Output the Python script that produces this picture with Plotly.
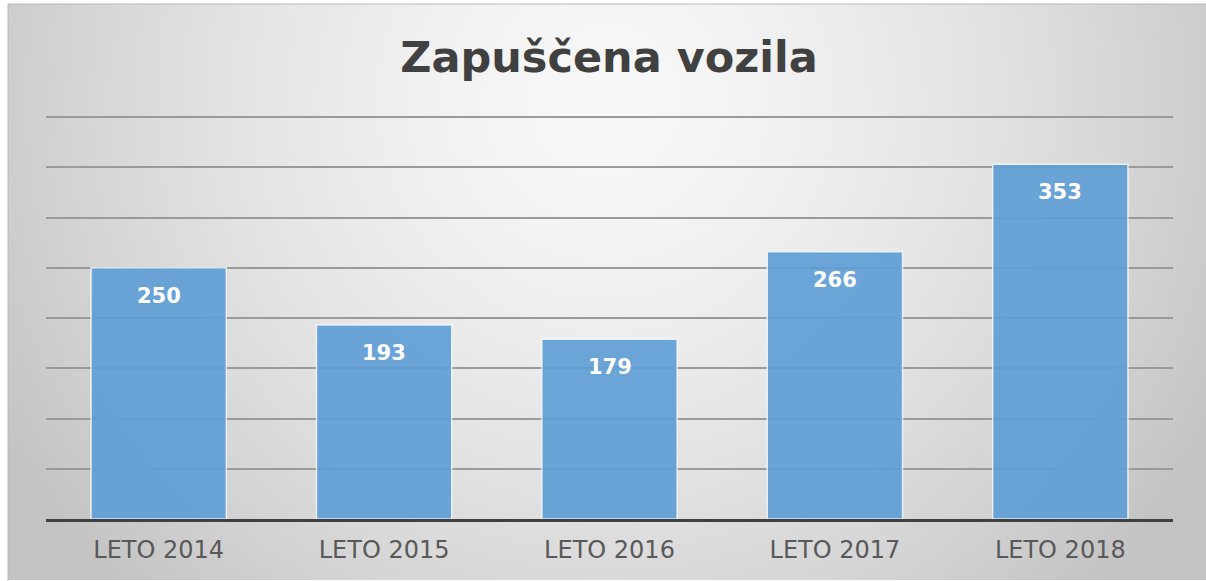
import base64, struct, zlib
import numpy as np
import plotly.graph_objects as go

categories = ["LETO 2014", "LETO 2015", "LETO 2016", "LETO 2017", "LETO 2018"]
values = [250, 193, 179, 266, 353]
title_text = "Zapuščena vozila"
grid_vals = [50, 100, 150, 200, 250, 300, 350, 400]

W, H = 1206, 581
L, R, T, B = 46, 33, 97, 62
PW, PH = W - L - R, H - T - B
Y_MAX = 420

# --- background gradient image (frame from x=8..1206, y=4..580)
fx0, fy0, fx1, fy1 = 8, 4, 1206, 580
iw, ih = fx1 - fx0, fy1 - fy0
xs = np.arange(iw)[None, :] + fx0
ys = np.arange(ih)[:, None] + fy0
d = np.sqrt(((xs - 605) / 600.0) ** 2 + ((ys - 100) / 600.0) ** 2)
v = np.clip(248 - 42 * d ** 1.5, 195, 250).astype(np.uint8)

def png_gray(arr):
    h, w = arr.shape
    raw = b"".join(b"\x00" + arr[i].tobytes() for i in range(h))
    def chunk(t, data):
        c = struct.pack(">I", len(data)) + t + data
        return c + struct.pack(">I", zlib.crc32(t + data) & 0xFFFFFFFF)
    return (b"\x89PNG\r\n\x1a\n" + chunk(b"IHDR", struct.pack(">IIBBBBB", w, h, 8, 0, 0, 0, 0))
            + chunk(b"IDAT", zlib.compress(raw, 9)) + chunk(b"IEND", b""))

uri = "data:image/png;base64," + base64.b64encode(png_gray(v)).decode()

def px2x(px):
    return (px - L) / PW

def py2y(py):
    return (H - B - py) / PH

fig = go.Figure()
fig.add_trace(go.Bar(
    x=categories, y=values,
    marker=dict(color="rgba(95,157,213,0.92)", line=dict(color="rgba(255,255,255,0.75)", width=1.5)),
    width=0.6, hoverinfo="x+y",
))

for c, val in zip(categories, values):
    fig.add_annotation(x=c, y=val, text=f"<b>{val}</b>", showarrow=False, yanchor="middle",
                       yshift=-28, font=dict(family="DejaVu Sans", size=21, color="white"))

fig.add_layout_image(dict(source=uri, xref="paper", yref="paper",
                          x=px2x(fx0), y=py2y(fy0), sizex=iw / PW, sizey=ih / PH,
                          xanchor="left", yanchor="top", sizing="stretch", layer="below"))
fig.add_shape(type="rect", xref="paper", yref="paper",
              x0=px2x(fx0), x1=px2x(fx1 + 2), y0=py2y(fy1 + 2), y1=py2y(fy0),
              line=dict(color="#b8b8b8", width=1), fillcolor="rgba(0,0,0,0)", layer="below")

fig.update_layout(
    width=W, height=H,
    margin=dict(l=L, r=R, t=T, b=B),
    paper_bgcolor="white", plot_bgcolor="rgba(0,0,0,0)",
    title=dict(text=f"<b>{title_text}</b>", x=0.505, xanchor="center", y=1 - 57 / H, yanchor="middle",
               font=dict(family="DejaVu Sans", size=43, color="#404040")),
    showlegend=False,
    xaxis=dict(showline=True, linecolor="#404040", linewidth=3, ticks="", ticklabelstandoff=7,
               tickfont=dict(family="DejaVu Sans", size=24, color="#595959"), showgrid=False),
    yaxis=dict(range=[0, Y_MAX], tickvals=grid_vals, showticklabels=False,
               zeroline=False, gridcolor="#9a9a9a", gridwidth=1.5, showline=False),
)

fig.write_html("out.html", config={"displayModeBar": False},
               post_script="document.body.style.margin='0';")
